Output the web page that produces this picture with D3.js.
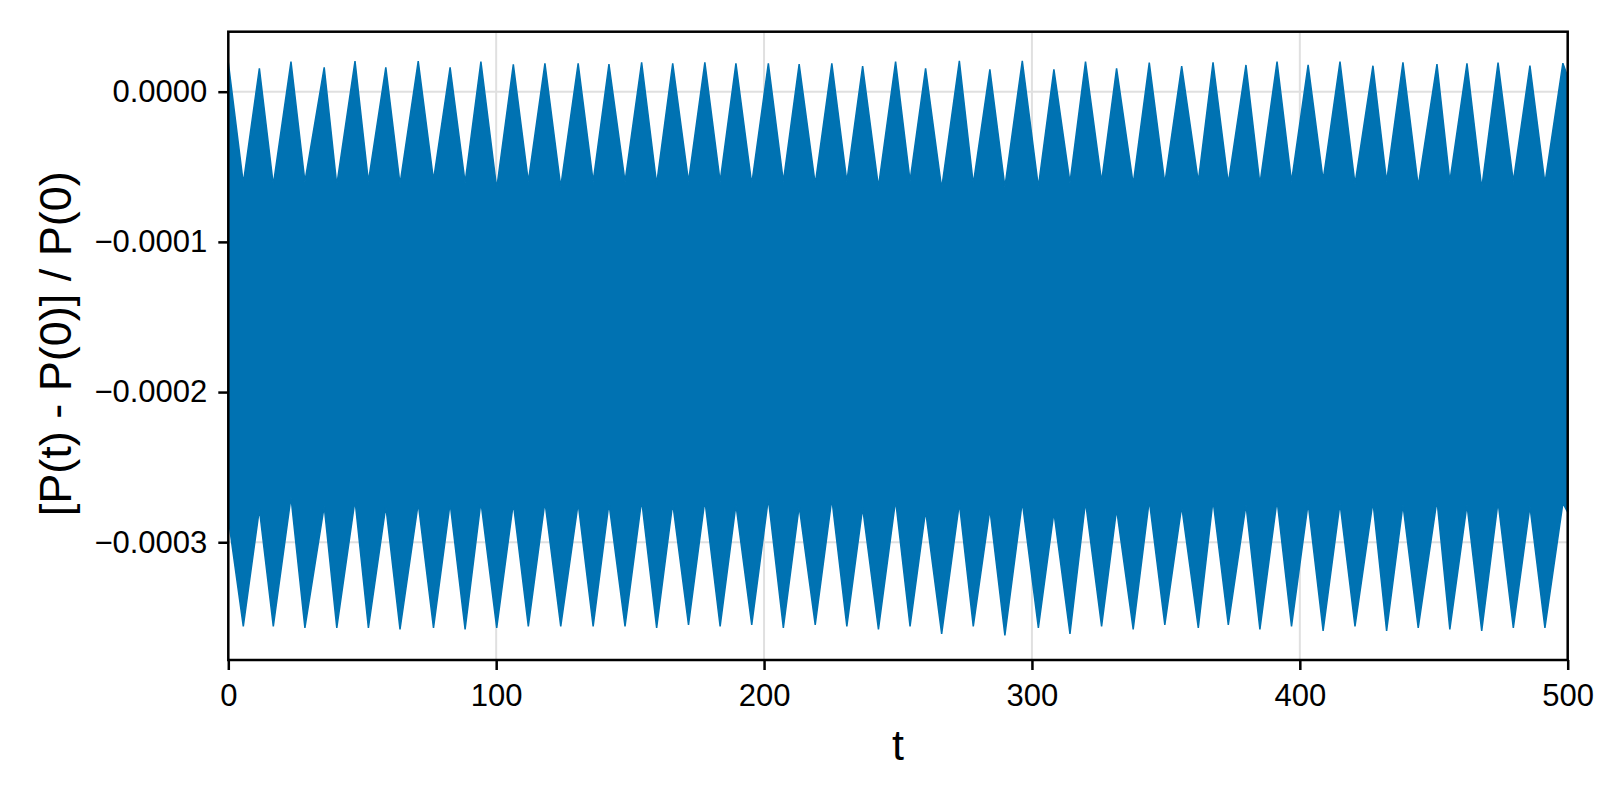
<!DOCTYPE html>
<html>
<head>
<meta charset="utf-8">
<script src="https://cdn.jsdelivr.net/npm/d3@7"></script>
<style>
  html, body { margin: 0; padding: 0; background: #ffffff; }
  svg { display: block; }
  text { font-family: "Liberation Sans", Arial, Helvetica, sans-serif; fill: #000; }
</style>
</head>
<body>
<svg id="chart" width="1600" height="800"></svg>
<script>
// ---------- data ----------
// times of the upper-envelope maxima (the band is highest at these t)
const peakT = [0, 11.6, 23.4, 35.8, 47.3, 58.8, 70.9, 82.8, 94.3, 106.4, 118.2,
  130.6, 142.1, 154.3, 165.9, 177.9, 189.5, 201.6, 213.1, 225.3, 236.8,
  249.1, 260.3, 272.9, 284.3, 296.4, 308.2, 320.0, 331.6, 343.8, 355.9,
  367.6, 379.9, 391.5, 403.1, 415.0, 427.3, 438.5, 451.2, 462.4, 474.0, 485.9,
  498.2];
// upper boundary of the curve at those times
const peakUpper = [1.95e-5, 1.56e-5, 2.00e-5, 1.62e-5, 2.04e-5, 1.62e-5, 2.04e-5, 1.62e-5, 2.00e-5, 1.82e-5, 1.89e-5,
  1.89e-5, 1.84e-5, 1.96e-5, 1.89e-5, 1.96e-5, 1.89e-5, 1.89e-5, 1.84e-5, 1.89e-5, 1.71e-5,
  2.00e-5, 1.56e-5, 2.06e-5, 1.49e-5, 2.06e-5, 1.49e-5, 2.00e-5, 1.56e-5, 1.93e-5, 1.71e-5,
  1.96e-5, 1.78e-5, 2.00e-5, 1.78e-5, 2.00e-5, 1.73e-5, 1.96e-5, 1.84e-5, 1.89e-5, 1.93e-5, 1.73e-5,
  1.90e-5];
// lower boundary of the curve at those times
const peakLower = [-2.84e-4, -2.78e-4, -2.70e-4, -2.76e-4, -2.72e-4, -2.76e-4, -2.74e-4, -2.74e-4, -2.73e-4, -2.74e-4, -2.73e-4,
  -2.74e-4, -2.74e-4, -2.72e-4, -2.74e-4, -2.72e-4, -2.75e-4, -2.71e-4, -2.76e-4, -2.71e-4, -2.77e-4,
  -2.72e-4, -2.79e-4, -2.74e-4, -2.78e-4, -2.73e-4, -2.80e-4, -2.73e-4, -2.78e-4, -2.72e-4, -2.76e-4,
  -2.72e-4, -2.75e-4, -2.72e-4, -2.74e-4, -2.74e-4, -2.73e-4, -2.75e-4, -2.72e-4, -2.75e-4, -2.73e-4, -2.76e-4,
  -2.74e-4];
// times of the envelope minima (band lowest)
const valleyT = [5.6, 16.8, 28.6, 40.5, 52.3, 64.1, 76.6, 88.4, 100.2, 112.0,
  124.1, 136.2, 148.1, 159.9, 171.8, 183.6, 195.4, 207.2, 219.1, 230.9, 242.7,
  254.5, 266.3, 278.1, 289.9, 302.4, 314.2, 326.0, 337.8, 349.6,
  362.1, 373.3, 385.1, 396.9, 408.7, 420.6, 432.4, 444.2, 456.0, 467.9, 479.7, 491.5];
const valleyUpper = [-6.10e-5, -6.21e-5, -5.99e-5, -6.21e-5, -5.99e-5, -6.15e-5, -5.88e-5, -6.06e-5, -6.43e-5, -5.99e-5,
  -6.33e-5, -5.99e-5, -5.99e-5, -6.15e-5, -5.99e-5, -5.99e-5, -6.15e-5, -5.99e-5, -6.15e-5, -5.99e-5, -6.33e-5,
  -5.93e-5, -6.43e-5, -6.15e-5, -6.33e-5, -6.33e-5, -6.06e-5, -5.99e-5, -6.15e-5, -6.10e-5,
  -5.99e-5, -6.10e-5, -6.15e-5, -5.99e-5, -5.88e-5, -6.15e-5, -5.99e-5, -6.28e-5, -5.99e-5, -6.43e-5, -5.99e-5, -6.10e-5];
const valleyLower = [-3.56e-4, -3.56e-4, -3.57e-4, -3.57e-4, -3.57e-4, -3.58e-4, -3.57e-4, -3.58e-4, -3.57e-4, -3.56e-4,
  -3.56e-4, -3.56e-4, -3.56e-4, -3.57e-4, -3.55e-4, -3.56e-4, -3.55e-4, -3.57e-4, -3.55e-4, -3.56e-4, -3.58e-4,
  -3.56e-4, -3.61e-4, -3.56e-4, -3.62e-4, -3.57e-4, -3.61e-4, -3.56e-4, -3.58e-4, -3.55e-4,
  -3.57e-4, -3.55e-4, -3.58e-4, -3.56e-4, -3.59e-4, -3.56e-4, -3.59e-4, -3.57e-4, -3.58e-4, -3.59e-4, -3.57e-4, -3.57e-4];
// last sample at the end of the run
const endT = [500];
const endUpper = [1.0e-5];
const endLower = [-2.80e-4];

const xTicks = [0, 100, 200, 300, 400, 500];
const yTicks = [0, -0.0001, -0.0002, -0.0003];
const xLabel = "t";
const yLabel = "[P(t) - P(0)] / P(0)";

// ---------- layout ----------
const svg = d3.select("#chart");
const W = 1600, H = 800;
const plot = { left: 228.3, right: 1567.7, top: 31.7, bottom: 660 };
const lineColor = "#0072b2";

const x = d3.scaleLinear().domain([0, 500]).range([plot.left, plot.right]);
const y = d3.scaleLinear().domain([-3.784e-4, 3.995e-5]).range([plot.bottom, plot.top]);

svg.append("rect").attr("width", W).attr("height", H).attr("fill", "#fff");

// grid
const grid = svg.append("g");
grid.selectAll("line.gx").data(xTicks).join("line")
  .attr("x1", d => x(d)).attr("x2", d => x(d))
  .attr("y1", plot.top).attr("y2", plot.bottom)
  .attr("stroke", "#e0e0e0").attr("stroke-width", 2);
grid.selectAll("line.gy").data(yTicks).join("line")
  .attr("y1", d => y(d)).attr("y2", d => y(d))
  .attr("x1", plot.left).attr("x2", plot.right)
  .attr("stroke", "#e0e0e0").attr("stroke-width", 2);

// data band
const upperPts = peakT.map((t, i) => ({ t, v: peakUpper[i] }))
  .concat(valleyT.map((t, i) => ({ t, v: valleyUpper[i] })))
  .concat(endT.map((t, i) => ({ t, v: endUpper[i] })))
  .sort((a, b) => a.t - b.t);
const lowerPts = peakT.map((t, i) => ({ t, v: peakLower[i] }))
  .concat(valleyT.map((t, i) => ({ t, v: valleyLower[i] })))
  .concat(endT.map((t, i) => ({ t, v: endLower[i] })))
  .sort((a, b) => a.t - b.t);
const outline = upperPts.concat(lowerPts.slice().reverse());
const line = d3.line().x(d => x(d.t)).y(d => y(d.v));
svg.append("path")
  .attr("d", line(outline) + "Z")
  .attr("fill", lineColor)
  .attr("stroke", lineColor)
  .attr("stroke-width", 1.5)
  .attr("stroke-linejoin", "miter");

// axes
const fmtY = d3.format(".4f");
const xAxis = svg.append("g")
  .attr("transform", `translate(0,${plot.bottom})`)
  .call(d3.axisBottom(x).tickValues(xTicks).tickFormat(d3.format("d")).tickSize(10).tickPadding(14));
const yAxis = svg.append("g")
  .attr("transform", `translate(${plot.left},0)`)
  .call(d3.axisLeft(y).tickValues(yTicks).tickFormat(fmtY).tickSize(10).tickPadding(11));
[xAxis, yAxis].forEach(g => {
  g.select(".domain").remove();
  g.selectAll(".tick line").attr("stroke", "#000").attr("stroke-width", 2.5);
  g.selectAll(".tick text").attr("font-size", 31)
    .attr("font-family", "'Liberation Sans', Arial, Helvetica, sans-serif").attr("fill", "#000");
});

// frame
svg.append("rect")
  .attr("x", plot.left).attr("y", plot.top)
  .attr("width", plot.right - plot.left).attr("height", plot.bottom - plot.top)
  .attr("fill", "none").attr("stroke", "#000").attr("stroke-width", 2.5);

// axis labels
svg.append("text")
  .attr("x", (plot.left + plot.right) / 2).attr("y", 760)
  .attr("text-anchor", "middle").attr("font-size", 43)
  .text(xLabel);
svg.append("text")
  .attr("transform", `translate(71,${(plot.top + plot.bottom) / 2 - 2}) rotate(-90)`)
  .attr("text-anchor", "middle").attr("font-size", 45)
  .text(yLabel);
</script>
</body>
</html>
